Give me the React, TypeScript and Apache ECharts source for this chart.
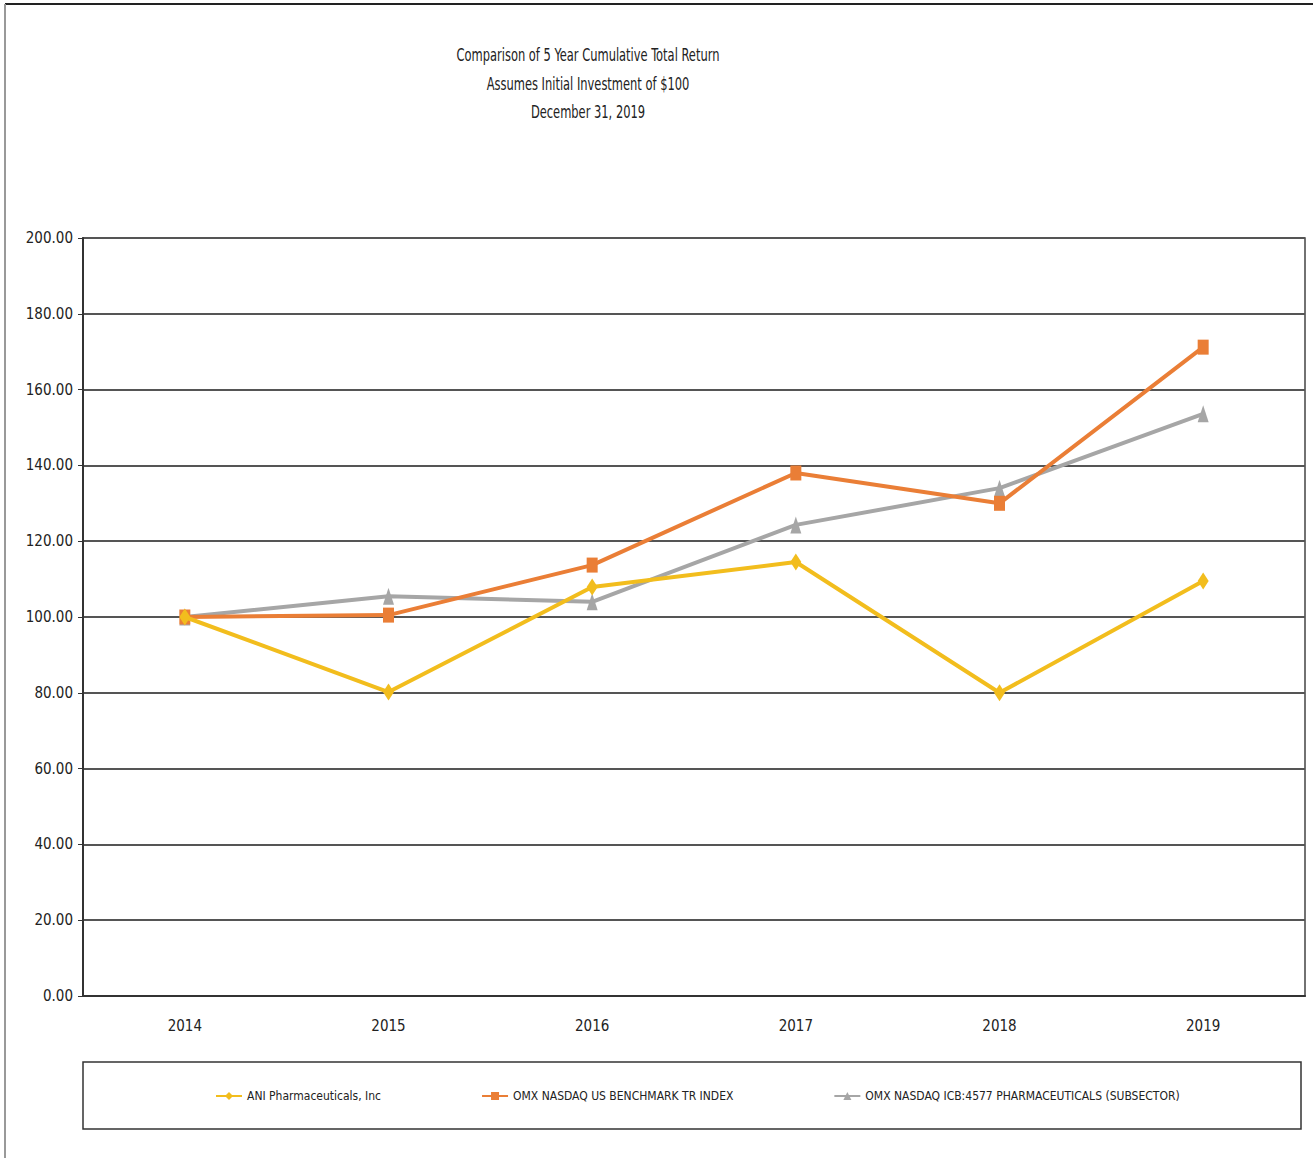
import React, { useEffect, useRef } from "react";
import * as echarts from "echarts";

const years = ["2014", "2015", "2016", "2017", "2018", "2019"];
const aniValues = [100.0, 80.2, 107.9, 114.5, 80.0, 109.5];
const benchmarkValues = [100.0, 100.5, 113.7, 138.0, 130.0, 171.2];
const pharmaValues = [100.0, 105.5, 104.0, 124.3, 134.0, 153.6];
const seriesNames = [
  "ANI Pharmaceuticals, Inc",
  "OMX NASDAQ US BENCHMARK TR INDEX",
  "OMX NASDAQ ICB:4577 PHARMACEUTICALS (SUBSECTOR)",
];
const titleLines = [
  "Comparison of 5 Year Cumulative Total Return",
  "Assumes Initial Investment of $100",
  "December 31, 2019",
];

const FONT = "'DejaVu Sans Condensed', 'Liberation Sans Narrow', 'Liberation Sans', sans-serif";

export default function App() {
  const ref = useRef<HTMLDivElement>(null);
  useEffect(() => {
    if (!ref.current) return;
    const chart = echarts.init(ref.current, null, { renderer: "svg" });
    const colors = ["#F2BD1D", "#EA7E36", "#A6A6A6"];
    const symbols = ["diamond", "rect", "triangle"];
    const data = [aniValues, benchmarkValues, pharmaValues];
    const titleY = [55, 84, 112];
    chart.setOption({
      animation: false,
      backgroundColor: "#ffffff",
      textStyle: { fontFamily: FONT },
      grid: {
        left: 83,
        top: 238,
        right: 8,
        bottom: 162,
        show: true,
        borderColor: "#444",
        borderWidth: 1.5,
        containLabel: false,
      },
      legend: {
        data: seriesNames,
        left: 210,
        top: 1085,
        itemGap: 100,
        itemWidth: 26,
        itemHeight: 10,
        textStyle: { fontFamily: FONT, fontSize: 12, color: "#222" },
      },
      xAxis: {
        type: "category",
        data: years,
        boundaryGap: true,
        axisLine: { lineStyle: { color: "#333", width: 2 } },
        axisTick: { alignWithLabel: true, inside: true, length: 5, lineStyle: { color: "#333" } },
        axisLabel: { fontFamily: FONT, fontSize: 15, color: "#222", margin: 22 },
        splitLine: { show: false },
      },
      yAxis: {
        type: "value",
        min: 0,
        max: 200,
        interval: 20,
        axisLine: { show: true, lineStyle: { color: "#333", width: 2 } },
        axisTick: { show: true, length: 5, lineStyle: { color: "#333" } },
        axisLabel: {
          fontFamily: FONT,
          fontSize: 15,
          color: "#222",
          margin: 10,
          formatter: (v: number) => v.toFixed(2),
        },
        splitLine: { lineStyle: { color: "#555", width: 2 } },
      },
      series: seriesNames.map((name, i) => ({
        name,
        type: "line",
        data: data[i],
        symbol: symbols[i],
        symbolSize: i === 1 ? [11, 15] : [11, 17],
        showSymbol: true,
        itemStyle: { color: colors[i] },
        lineStyle: { color: colors[i], width: 4 },
        z: 3 - i,
      })),
      graphic: [
        ...titleLines.map((t, i) => ({
          type: "text",
          x: 588,
          y: titleY[i],
          scaleX: 0.75,
          style: {
            text: t,
            fontFamily: FONT,
            fontSize: 17,
            fill: "#222",
            align: "center",
            verticalAlign: "middle",
          },
        })),
        {
          type: "line",
          shape: { x1: 5, y1: 4, x2: 1313, y2: 4 },
          style: { stroke: "#222", lineWidth: 2 },
        },
        {
          type: "line",
          shape: { x1: 5, y1: 4, x2: 5, y2: 1158 },
          style: { stroke: "#999", lineWidth: 2 },
        },
        {
          type: "rect",
          shape: { x: 83, y: 1062, width: 1218, height: 67 },
          style: { fill: "none", stroke: "#333", lineWidth: 1.5 },
        },
      ],
    });
    return () => chart.dispose();
  }, []);
  return (
    <div
      ref={ref}
      style={{ position: "fixed", left: 0, top: 0, width: 1313, height: 1158 }}
    />
  );
}
